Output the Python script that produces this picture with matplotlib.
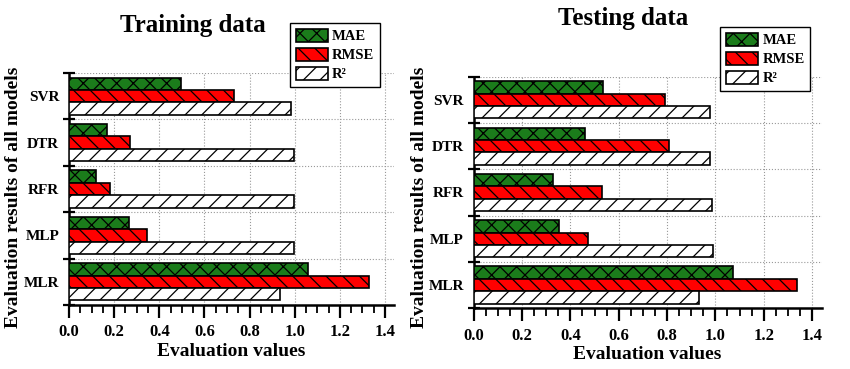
import numpy as np
import matplotlib
matplotlib.use('Agg')
import matplotlib.pyplot as plt
from matplotlib.ticker import MultipleLocator

plt.rcParams['font.family'] = ['Liberation Serif', 'DejaVu Serif']
plt.rcParams['font.weight'] = 'bold'
plt.rcParams['hatch.linewidth'] = 0.9

# data (bottom to top)
models = ['MLR', 'MLP', 'RFR', 'DTR', 'SVR']
train_mae = [1.06, 0.264, 0.118, 0.167, 0.495]
train_rmse = [1.33, 0.344, 0.183, 0.270, 0.733]
train_r2 = [0.935, 0.997, 0.997, 0.997, 0.982]
test_mae = [1.072, 0.351, 0.329, 0.460, 0.533]
test_rmse = [1.338, 0.474, 0.529, 0.809, 0.790]
test_r2 = [0.934, 0.991, 0.987, 0.977, 0.977]
metric_names = ['MAE', 'RMSE', 'R²']

colors = ['#1b7c1b', '#ff0000', 'white']
hatches = ['xx', '\\\\', '//']

fig = plt.figure(figsize=(8.5, 3.69), dpi=100)
ax1 = fig.add_axes([0.0812, 0.1735, 0.3824, 0.6287])
ax2 = fig.add_axes([0.5573, 0.1650, 0.4094, 0.6272])


def draw(ax, mae, rmse, r2, leg_xy):
    y = np.arange(len(models))
    h = 0.267
    for vals, off, c, ht, name in zip([mae, rmse, r2], [h, 0, -h], colors, hatches, metric_names):
        ax.barh(y + off, vals, height=h, color=c, edgecolor='black', linewidth=1.2,
                hatch=ht, label=name, zorder=3)
    ax.set_xlim(0, 1.44)
    ax.set_ylim(-0.5, 4.5)
    ax.xaxis.set_minor_locator(MultipleLocator(0.05))
    ax.set_xticks(np.arange(0, 1.41, 0.2))
    ax.set_xticklabels(['%.1f' % v for v in np.arange(0, 1.41, 0.2)])
    ax.set_yticks(y)
    ax.set_yticklabels(models)
    ax.set_yticks(np.arange(-0.5, 4.6, 1), minor=True)
    ax.tick_params(axis='y', which='major', length=0, labelsize=11, pad=7)
    ax.tick_params(axis='y', which='minor', length=8, width=1.6, direction='inout')
    ax.tick_params(axis='x', which='major', length=9, width=1.6, direction='out',
                   labelsize=12, pad=5)
    ax.tick_params(axis='x', which='minor', length=6, width=1.3, direction='out')
    ax.grid(True, axis='x', which='major', linestyle=':', color='#999999', linewidth=0.8, zorder=0)
    ax.grid(True, axis='y', which='minor', linestyle=':', color='#999999', linewidth=0.8, zorder=0)
    for s in ['top', 'right']:
        ax.spines[s].set_visible(False)
    for s in ['left', 'bottom']:
        ax.spines[s].set_linewidth(1.8)
    leg = ax.legend(loc='upper left', bbox_to_anchor=leg_xy, bbox_transform=fig.transFigure,
                    borderaxespad=0, fontsize=10.5, handlelength=2.2, handleheight=1.0,
                    labelspacing=0.3, handletextpad=0.3, borderpad=0.4, fancybox=False,
                    framealpha=1)
    leg.get_frame().set_edgecolor('black')
    leg.get_frame().set_linewidth(1.0)


draw(ax1, train_mae, train_rmse, train_r2, (0.341, 0.938))
draw(ax2, test_mae, test_rmse, test_r2, (0.847, 0.927))

fig.text(0.227, 0.932, 'Training data', ha='center', va='center', fontsize=18, fontweight='bold')
fig.text(0.733, 0.951, 'Testing data', ha='center', va='center', fontsize=18, fontweight='bold')
fig.text(0.016, 0.465, 'Evaluation results of all models', rotation=90, ha='center', va='center',
         fontsize=14, fontweight='bold')
fig.text(0.494, 0.465, 'Evaluation results of all models', rotation=90, ha='center', va='center',
         fontsize=14, fontweight='bold')
fig.text(0.272, 0.048, 'Evaluation values', ha='center', va='center', fontsize=14, fontweight='bold')
fig.text(0.761, 0.040, 'Evaluation values', ha='center', va='center', fontsize=14, fontweight='bold')

fig.savefig('out.png', dpi=100)
